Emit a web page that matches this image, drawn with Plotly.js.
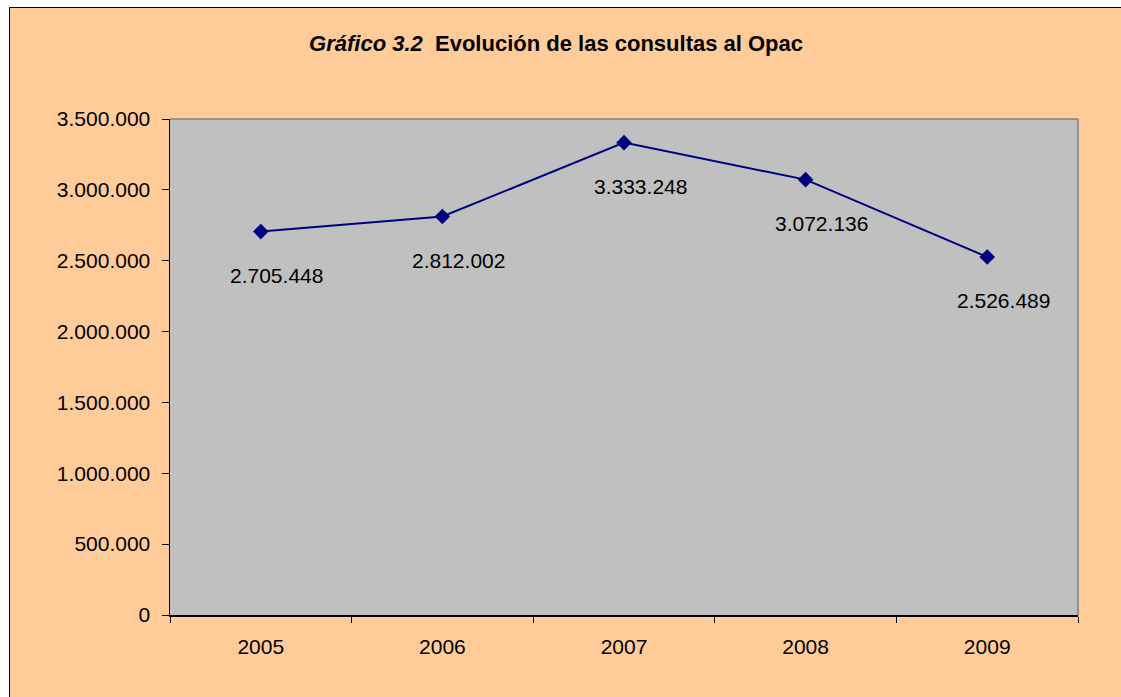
<!DOCTYPE html>
<html>
<head>
<meta charset="utf-8">
<script src="https://cdn.plot.ly/plotly-3.0.1.min.js"></script>
<style>
  html, body { margin: 0; padding: 0; background: #ffffff; width: 1121px; height: 697px; overflow: hidden; }
  #frame { position: absolute; left: 9px; top: 7px; width: 1112px; height: 690px;
           border-left: 1px solid #000; border-top: 1px solid #000; background: #FFCC99; }
  #chart { width: 1111px; height: 689px; }
</style>
</head>
<body>
<div id="frame"><div id="chart"></div></div>
<script>
const years = ['2005', '2006', '2007', '2008', '2009'];
const consultas = [2705448, 2812002, 3333248, 3072136, 2526489];
const yTicks = [0, 500000, 1000000, 1500000, 2000000, 2500000, 3000000, 3500000];

function fmt(n) {
  return String(n).replace(/\B(?=(\d{3})+(?!\d))/g, '.');
}

const FONT = 'Liberation Sans, Arial, sans-serif';

const trace = {
  type: 'scatter',
  mode: 'lines+markers',
  x: years,
  y: consultas,
  line: { color: '#000080', width: 2 },
  marker: { symbol: 'diamond', size: 12, color: '#000080' },
  hoverinfo: 'skip'
};

// category axis: annotation x given as the category's serial index
const annotations = years.map((yr, i) => ({
  x: i, y: consultas[i], xref: 'x', yref: 'y',
  text: fmt(consultas[i]), showarrow: false,
  xanchor: 'center', yanchor: 'middle',
  xshift: 16, yshift: -44,
  font: { family: FONT, size: 21, color: '#000' }
}));

const layout = {
  width: 1111, height: 689,
  paper_bgcolor: '#FFCC99',
  plot_bgcolor: '#C0C0C0',
  separators: ',.',
  showlegend: false,
  margin: { l: 160, r: 43, t: 111, b: 82, pad: 0 },
  title: {
    text: '<i>Gráfico 3.2</i>  Evolución de las consultas al Opac',
    font: { family: FONT, size: 22, color: '#000', weight: 'bold' },
    xref: 'container', x: 0.4915, xanchor: 'center',
    yref: 'container', y: 0.949, yanchor: 'middle'
  },
  xaxis: {
    type: 'category',
    range: [-0.5, 4.5],
    tickson: 'boundaries',
    ticks: 'outside', ticklen: 6, tickcolor: '#000', tickwidth: 1,
    showline: true, linecolor: '#000', linewidth: 1.5,
    showgrid: false, zeroline: false,
    ticklabelstandoff: 12,
    tickfont: { family: FONT, size: 21, color: '#000' },
    fixedrange: true
  },
  yaxis: {
    range: [0, 3500000],
    tickvals: yTicks,
    ticktext: yTicks.map(fmt),
    ticks: 'outside', ticklen: 7, tickcolor: '#000', tickwidth: 1,
    showline: true, linecolor: '#000', linewidth: 1.5,
    showgrid: false, zeroline: false,
    ticklabelstandoff: 7,
    tickfont: { family: FONT, size: 21, color: '#000' },
    fixedrange: true
  },
  shapes: [
    { type: 'line', xref: 'paper', yref: 'paper', x0: 0, x1: 1, y0: 1, y1: 1,
      line: { color: '#808080', width: 1.5 } },
    { type: 'line', xref: 'paper', yref: 'paper', x0: 1, x1: 1, y0: 0, y1: 1,
      line: { color: '#808080', width: 1.5 } }
  ],
  annotations: annotations
};

Plotly.newPlot('chart', [trace], layout, { displayModeBar: false, staticPlot: true });
</script>
</body>
</html>
